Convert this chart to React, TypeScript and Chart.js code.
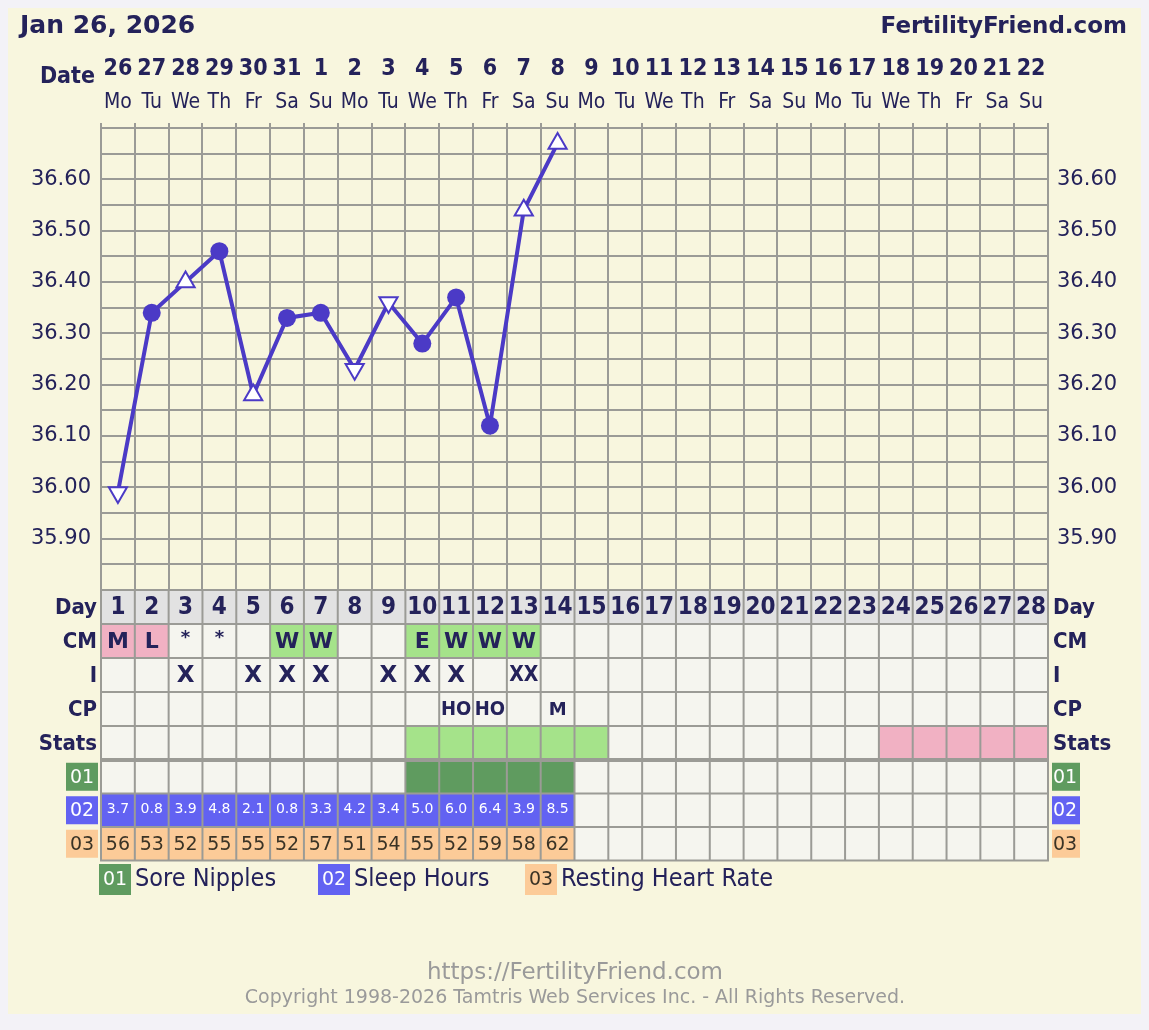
import React, { useEffect, useRef } from 'react';
import { Chart, registerables } from 'chart.js';

Chart.register(...registerables);

const W = 1133;
const H = 1006;
const NAVY = '#24225a';
const GRID = '#9b9b96';
const LINE = '#4b3ac6';
const CREAM = '#f8f6de';
const BLANK = '#f5f5ef';
const DAYBG = '#e2e2e2';
const PINK = '#f1b1c3';
const GREEN = '#a5e38a';
const DKGREEN = '#5f9b5f';
const BLUE = '#6262f2';
const PEACH = '#fccb98';
const COND = "'DejaVu Sans Condensed', 'DejaVu Sans', sans-serif";
const SANS = "'DejaVu Sans', Verdana, sans-serif";

// ---------- data ----------
const title = 'Jan 26, 2026';
const siteName = 'FertilityFriend.com';
const cycleDays = ['1', '2', '3', '4', '5', '6', '7', '8', '9', '10', '11', '12', '13', '14',
  '15', '16', '17', '18', '19', '20', '21', '22', '23', '24', '25', '26', '27', '28'];
const dateNumbers = ['26', '27', '28', '29', '30', '31', '1', '2', '3', '4', '5', '6', '7', '8',
  '9', '10', '11', '12', '13', '14', '15', '16', '17', '18', '19', '20', '21', '22'];
const weekdays = ['Mo', 'Tu', 'We', 'Th', 'Fr', 'Sa', 'Su', 'Mo', 'Tu', 'We', 'Th', 'Fr', 'Sa', 'Su',
  'Mo', 'Tu', 'We', 'Th', 'Fr', 'Sa', 'Su', 'Mo', 'Tu', 'We', 'Th', 'Fr', 'Sa', 'Su'];
const temperatures = [35.99, 36.34, 36.40, 36.46, 36.18, 36.33, 36.34, 36.23, 36.36, 36.28, 36.37, 36.12, 36.54, 36.67];
const markers = ['down', 'dot', 'up', 'dot', 'up', 'dot', 'dot', 'down', 'down', 'dot', 'dot', 'dot', 'up', 'up'];
const tempTickLabels = ['35.90', '36.00', '36.10', '36.20', '36.30', '36.40', '36.50', '36.60'];
const cervicalMucus = ['M', 'L', '*', '*', '', 'W', 'W', '', '', 'E', 'W', 'W', 'W', ''];
const intercourse = ['', '', 'X', '', 'X', 'X', 'X', '', 'X', 'X', 'X', '', 'XX', ''];
const cervixPosition = ['', '', '', '', '', '', '', '', '', '', 'HO', 'HO', '', 'M'];
const statsFertileDays = [10, 11, 12, 13, 14, 15];
const statsPinkDays = [24, 25, 26, 27, 28];
const soreNipples = [false, false, false, false, false, false, false, false, false, true, true, true, true, true];
const sleepHours = ['3.7', '0.8', '3.9', '4.8', '2.1', '0.8', '3.3', '4.2', '3.4', '5.0', '6.0', '6.4', '3.9', '8.5'];
const restingHeartRate = ['56', '53', '52', '55', '55', '52', '57', '51', '54', '55', '52', '59', '58', '62'];
const rowLabels = ['Day', 'CM', 'I', 'CP', 'Stats'];
const customCodes = ['01', '02', '03'];
const customNames = ['Sore Nipples', 'Sleep Hours', 'Resting Heart Rate'];
const customColors = [DKGREEN, BLUE, PEACH];
const customTextColors = ['#ffffff', '#ffffff', '#3a3326'];
const footerUrl = 'https://FertilityFriend.com';
const footerCopyright = 'Copyright 1998-2026 Tamtris Web Services Inc. - All Rights Reserved.';

const ffPlugin = {
  id: 'ffTable',
  afterDraw(chart: any) {
    const ctx: CanvasRenderingContext2D = chart.ctx;
    const xs = chart.scales.x;
    const area = chart.chartArea;
    const n = cycleDays.length;
    const colW = (area.right - area.left) / n;
    const cx = (i: number) => xs.getPixelForValue(i);
    ctx.save();

    // header
    ctx.fillStyle = NAVY;
    ctx.textBaseline = 'alphabetic';
    ctx.font = `bold 25px ${SANS}`;
    ctx.textAlign = 'left';
    ctx.fillText(title, 12, 25);
    ctx.textAlign = 'right';
    ctx.font = `bold 23px ${SANS}`;
    ctx.fillText(siteName, 1119, 25);
    ctx.font = `bold 23px ${COND}`;
    ctx.fillText('Date', 87, 75);
    ctx.textAlign = 'center';
    for (let i = 0; i < n; i++) {
      ctx.font = `bold 23px ${COND}`;
      ctx.fillText(dateNumbers[i], cx(i), 67);
      ctx.font = `21px ${COND}`;
      ctx.fillText(weekdays[i], cx(i), 100);
    }

    // table geometry
    const rowH1 = 34;
    const top1 = area.bottom;
    const top2 = top1 + rowH1 * 5;
    const rowH2 = 33.5;
    const bottom = top2 + rowH2 * 3;
    const rowTop = (r: number) => (r < 5 ? top1 + r * rowH1 : top2 + (r - 5) * rowH2);
    const rowHt = (r: number) => (r < 5 ? rowH1 : rowH2);

    const fillFor = (r: number, i: number): string => {
      const day = i + 1;
      if (r === 0) return DAYBG;
      if (r === 1) {
        const v = cervicalMucus[i];
        if (v === 'M' || v === 'L') return PINK;
        if (v === 'W' || v === 'E') return GREEN;
        return BLANK;
      }
      if (r === 4) {
        if (statsFertileDays.includes(day)) return GREEN;
        if (statsPinkDays.includes(day)) return PINK;
        return BLANK;
      }
      if (r === 5) return soreNipples[i] ? DKGREEN : BLANK;
      if (r === 6) return sleepHours[i] ? BLUE : BLANK;
      if (r === 7) return restingHeartRate[i] ? PEACH : BLANK;
      return BLANK;
    };

    for (let r = 0; r < 8; r++) {
      for (let i = 0; i < n; i++) {
        ctx.fillStyle = fillFor(r, i);
        ctx.fillRect(cx(i) - colW / 2, rowTop(r), colW, rowHt(r));
      }
    }

    // grid lines
    ctx.strokeStyle = GRID;
    ctx.lineWidth = 2;
    ctx.beginPath();
    for (let i = 0; i <= n; i++) {
      const x = area.left + i * colW;
      ctx.moveTo(x, top1);
      ctx.lineTo(x, bottom);
    }
    for (let r = 0; r <= 8; r++) {
      const y = r < 8 ? rowTop(r) : bottom;
      ctx.moveTo(area.left - 1, y);
      ctx.lineTo(area.right + 1, y);
    }
    ctx.stroke();
    ctx.lineWidth = 4;
    ctx.beginPath();
    ctx.moveTo(area.left, top2);
    ctx.lineTo(area.right, top2);
    ctx.stroke();

    // cell text
    ctx.textAlign = 'center';
    ctx.textBaseline = 'middle';
    ctx.fillStyle = NAVY;
    const mid = (r: number) => rowTop(r) + rowHt(r) / 2 + 1;
    for (let i = 0; i < n; i++) {
      ctx.font = `bold 24px ${COND}`;
      ctx.fillText(cycleDays[i], cx(i), mid(0));
    }
    for (let i = 0; i < cervicalMucus.length; i++) {
      const v = cervicalMucus[i];
      if (!v) continue;
      ctx.font = v === '*' ? `bold 18px ${SANS}` : `bold 22px ${SANS}`;
      ctx.fillText(v, cx(i), v === '*' ? mid(1) - 4 : mid(1));
    }
    for (let i = 0; i < intercourse.length; i++) {
      const v = intercourse[i];
      if (!v) continue;
      ctx.font = v.length > 1 ? `bold 21px ${COND}` : `bold 23px ${SANS}`;
      ctx.fillText(v, cx(i), mid(2));
    }
    for (let i = 0; i < cervixPosition.length; i++) {
      const v = cervixPosition[i];
      if (!v) continue;
      ctx.font = v.length > 1 ? `bold 20px ${COND}` : `bold 18px ${SANS}`;
      ctx.fillText(v, cx(i), mid(3));
    }
    ctx.fillStyle = '#ffffff';
    ctx.font = `14px ${SANS}`;
    for (let i = 0; i < sleepHours.length; i++) {
      ctx.fillText(sleepHours[i], cx(i), mid(6) - 2);
    }
    ctx.fillStyle = customTextColors[2];
    ctx.font = `19px ${SANS}`;
    for (let i = 0; i < restingHeartRate.length; i++) {
      ctx.fillText(restingHeartRate[i], cx(i), mid(7));
    }

    // row labels
    ctx.fillStyle = NAVY;
    ctx.font = `bold 22px ${COND}`;
    for (let r = 0; r < 5; r++) {
      ctx.textAlign = 'right';
      ctx.fillText(rowLabels[r], 89, mid(r));
      ctx.textAlign = 'left';
      ctx.fillText(rowLabels[r], 1045, mid(r));
    }
    // badges
    const badge = (x: number, y: number, w: number, h: number, k: number, align: string, tx: number) => {
      ctx.fillStyle = customColors[k];
      ctx.fillRect(x, y, w, h);
      ctx.fillStyle = customTextColors[k];
      ctx.font = `19px ${SANS}`;
      ctx.textAlign = align as CanvasTextAlign;
      ctx.textBaseline = 'middle';
      ctx.fillText(customCodes[k], tx, y + h / 2 + 1);
    };
    for (let k = 0; k < 3; k++) {
      const y = rowTop(5 + k) + rowHt(5 + k) / 2 - 14;
      badge(58, y, 32, 28, k, 'center', 74);
      badge(1044, y, 28, 28, k, 'left', 1045);
    }

    // legend
    const legendX = [91, 310, 517];
    for (let k = 0; k < 3; k++) {
      badge(legendX[k], 856, 32, 31, k, 'center', legendX[k] + 16);
      ctx.fillStyle = NAVY;
      ctx.font = `25px ${COND}`;
      ctx.textAlign = 'left';
      ctx.fillText(customNames[k], legendX[k] + 36, 871);
    }

    // footer
    ctx.fillStyle = '#9a9a9a';
    ctx.textAlign = 'center';
    ctx.font = `23px ${SANS}`;
    ctx.fillText(footerUrl, 567, 965);
    ctx.font = `19px ${SANS}`;
    ctx.fillText(footerCopyright, 567, 990);
    ctx.restore();
  },
};

const tickCallback = (v: any) => {
  const s = Number(v).toFixed(2);
  return tempTickLabels.includes(s) ? s : '';
};

export default function App() {
  const ref = useRef<HTMLCanvasElement | null>(null);
  useEffect(() => {
    document.documentElement.style.background = '#f3f2f7';
    const canvas = ref.current!;
    const yCommon = {
      type: 'linear',
      min: 35.8,
      max: 36.7,
      ticks: {
        stepSize: 0.05,
        autoSkip: false,
        color: NAVY,
        font: { family: SANS, size: 21 },
        callback: tickCallback,
      },
    };
    const chart = new Chart(canvas, {
      type: 'line',
      data: {
        labels: cycleDays,
        datasets: [
          {
            data: temperatures,
            borderColor: LINE,
            borderWidth: 4,
            tension: 0,
            pointStyle: markers.map((m) => (m === 'dot' ? 'circle' : 'triangle')),
            rotation: markers.map((m) => (m === 'down' ? 180 : 0)),
            pointRadius: markers.map((m) => (m === 'dot' ? 9 : 10.5)),
            pointBackgroundColor: markers.map((m) => (m === 'dot' ? LINE : '#ffffff')),
            pointBorderColor: LINE,
            pointBorderWidth: markers.map((m) => (m === 'dot' ? 0 : 2)),
            yAxisID: 'y',
            clip: false,
          } as any,
        ],
      },
      options: {
        responsive: false,
        animation: false,
        events: [],
        layout: { padding: { top: 0, left: 0, right: 0, bottom: 424 } },
        plugins: { legend: { display: false }, tooltip: { enabled: false } },
        scales: {
          x: {
            type: 'category',
            position: 'top',
            offset: true,
            grid: { offset: true, color: GRID, lineWidth: 2, drawTicks: true, tickLength: 5 },
            border: { color: GRID, width: 2 },
            ticks: { display: false },
            afterFit: (s: any) => { s.height = 120; },
          },
          y: {
            ...yCommon,
            position: 'left',
            ticks: { ...yCommon.ticks, padding: 10 },
            grid: { color: GRID, lineWidth: 2, drawTicks: false },
            border: { color: GRID, width: 2 },
            afterFit: (s: any) => { s.width = 93; },
          },
          y2: {
            ...yCommon,
            position: 'right',
            ticks: { ...yCommon.ticks, padding: 9 },
            grid: { drawOnChartArea: false, drawTicks: false },
            border: { color: GRID, width: 2 },
            afterFit: (s: any) => { s.width = 93; },
          },
        } as any,
      },
      plugins: [ffPlugin],
    });
    return () => chart.destroy();
  }, []);
  return (
    <canvas
      ref={ref}
      width={W}
      height={H}
      style={{ display: 'block', width: W, height: H, background: CREAM }}
    />
  );
}
